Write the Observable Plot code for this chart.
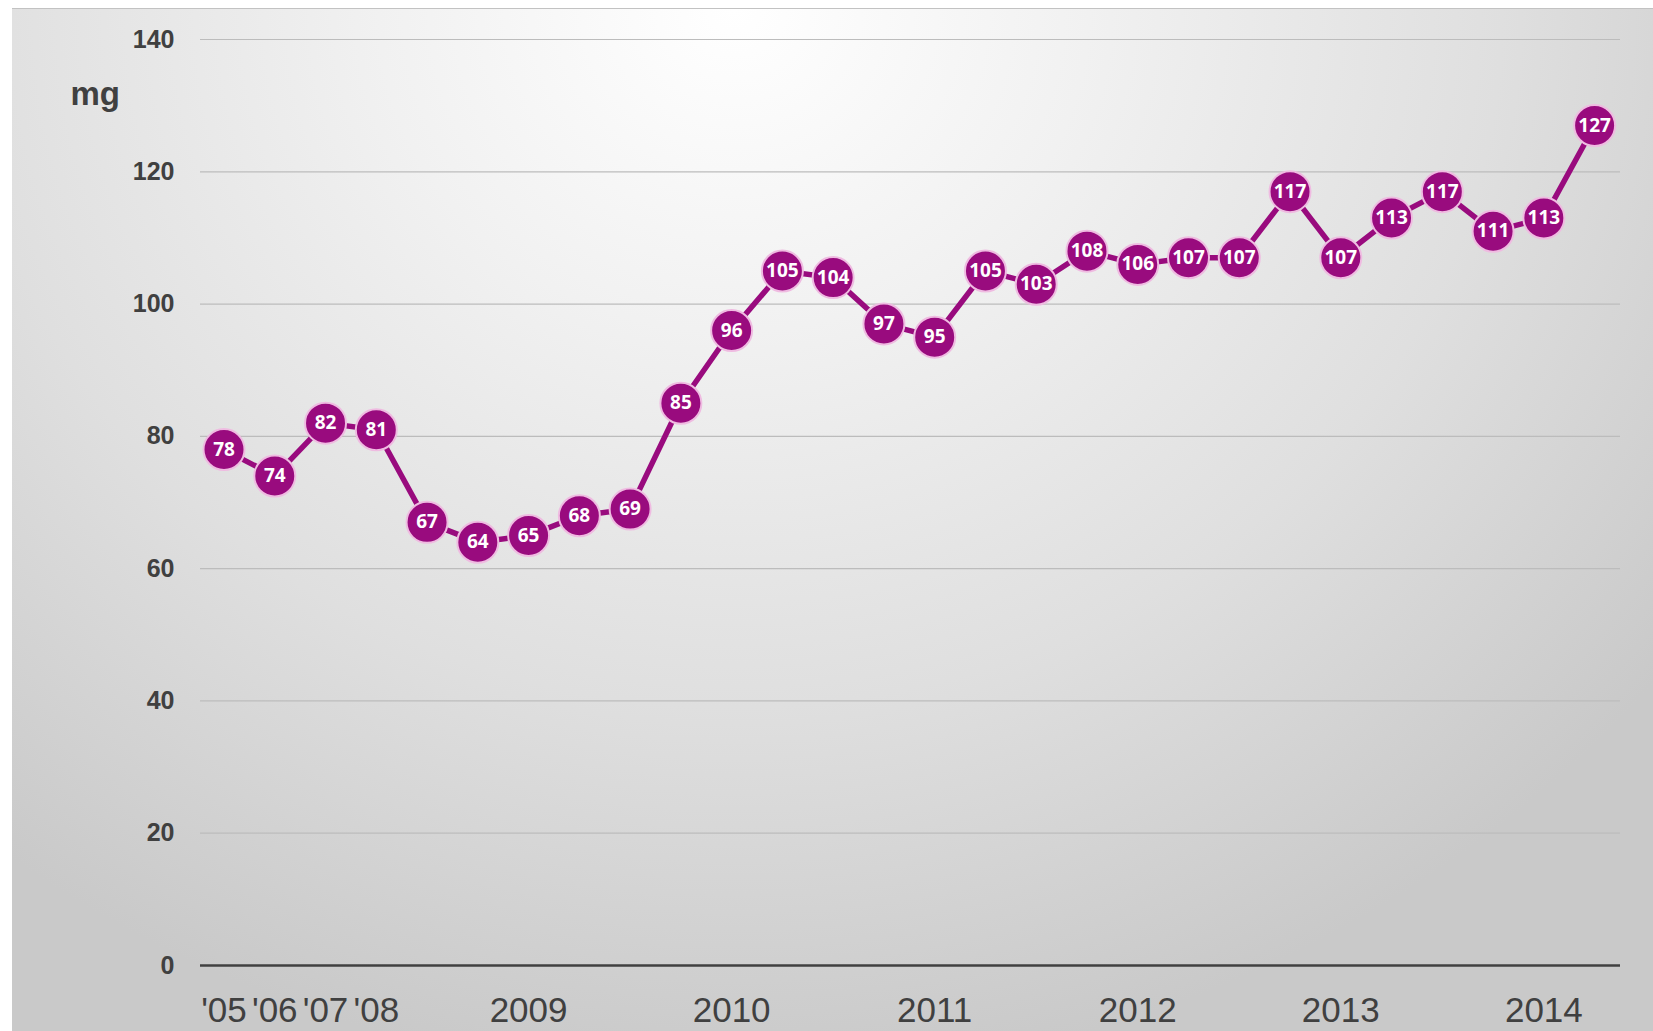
<!DOCTYPE html>
<html><head><meta charset="utf-8">
<script src="https://cdn.jsdelivr.net/npm/d3@7"></script>
<script src="https://cdn.jsdelivr.net/npm/@observablehq/plot@0.6"></script>
<style>
body{margin:0;background:#fff;}
#wrap{position:relative;width:1653px;height:1031px;overflow:hidden;}
#bg{position:absolute;left:12px;top:8px;right:0;bottom:0;
 background:radial-gradient(ellipse 72% 105% at 44% 0%, #ffffff 0%, #f1f1f1 30%, #dfdfdf 65%, #c9c9c9 100%);
 border-top:1.5px solid #c2c2c2;}
#chart{position:absolute;left:0;top:0;}
</style></head><body>
<div id="wrap"><div id="bg"></div><div id="chart"></div></div>
<script>
// Period index (0..27): 2005-2008 yearly, then 2009-2014 quarterly
const periods = ["2005","2006","2007","2008",
  "2009Q1","2009Q2","2009Q3","2009Q4",
  "2010Q1","2010Q2","2010Q3","2010Q4",
  "2011Q1","2011Q2","2011Q3","2011Q4",
  "2012Q1","2012Q2","2012Q3","2012Q4",
  "2013Q1","2013Q2","2013Q3","2013Q4",
  "2014Q1","2014Q2","2014Q3","2014Q4"];
const values = [78,74,82,81,67,64,65,68,69,85,96,105,104,97,95,105,103,108,106,107,107,117,107,113,117,111,113,127];
const tickIndex = [0,1,2,3,6,10,14,18,22,26];
const tickLabels = ["'05","'06","'07","'08","2009","2010","2011","2012","2013","2014"];
const yTicks = [0,20,40,60,80,100,120,140];
const unitLabel = "mg";

const data = periods.map((p, i) => ({i, period: p, v: values[i]}));
const purple = "#990b7e";

const chart = Plot.plot({
  width: 1653,
  height: 1031,
  marginLeft: 200,
  marginRight: 33,
  marginTop: 39,
  marginBottom: 66,
  style: {background: "transparent", fontFamily: "'Liberation Sans', Arial, sans-serif"},
  x: {type: "linear", domain: [-0.463, 27.51], axis: null},
  y: {domain: [0, 140], axis: null},
  marks: [
    Plot.ruleY(yTicks.filter(d => d > 0), {stroke: "#bcbcbc", strokeWidth: 1.2}),
    Plot.ruleY([0], {stroke: "#404040", strokeWidth: 2.6}),
    Plot.axisY(yTicks, {tickSize: 0, tickPadding: 26, fontSize: 25, fontWeight: "bold", fill: "#404040", label: null}),
    Plot.axisX(tickIndex, {tickSize: 0, tickPadding: 32, fontSize: 35, fill: "#404040",
      tickFormat: d => tickLabels[tickIndex.indexOf(d)], label: null}),
    Plot.text([unitLabel], {text: d => d, frameAnchor: "top-left", dx: -130, dy: 42,
      textAnchor: "start", fontSize: 33, fontWeight: "bold", fill: "#404040"}),
    Plot.line(data, {x: "i", y: "v", stroke: purple, strokeWidth: 5.5}),
    Plot.dot(data, {x: "i", y: "v", r: 20.5, fill: purple, stroke: "#efbbe1", strokeWidth: 2}),
    Plot.text(data, {x: "i", y: "v", text: d => String(d.v), fill: "white", fontWeight: "bold",
      fontSize: 19, fontFamily: "'Open Sans', sans-serif"})
  ]
});
document.getElementById("chart").appendChild(chart);
</script>
</body></html>
